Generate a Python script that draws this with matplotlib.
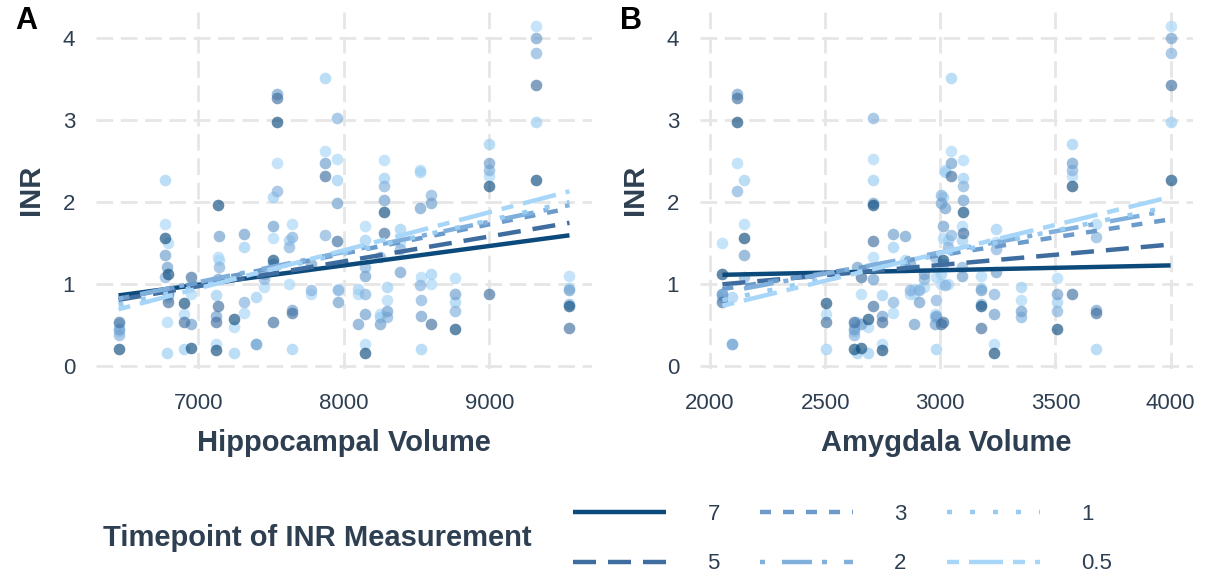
import numpy as np
import matplotlib
matplotlib.use('Agg')
import matplotlib.pyplot as plt
from matplotlib.lines import Line2D

# Data: one row per patient, INR at each timepoint (nan = not measured)
timepoints = ['0.5', '1', '2', '3', '5', '7']
hippocampal = [6450, 6768, 6790, 6782, 6897, 6947, 7136, 7140, 7120, 7241,
               7315, 7395, 7453, 7541, 7510, 7640, 7620, 7773, 7868, 7955,
               7960, 8098, 8143, 8143, 8250, 8273, 8295, 8386, 8523, 8530,
               8602, 8768, 9000, 9321, 9552]
amygdala = [2626, 2148, 2054, 2640, 2505, 2655, 2708, 2848, 2745, 2688,
            2793, 2097, 2930, 2117, 3013, 3674, 3035, 2870, 3046, 2708,
            2909, 2885, 3095, 3235, 2975, 3097, 3351, 3240, 3020, 2980,
            3005, 3507, 3572, 4000, 3177]
nan = np.nan
inr = [
    [0.51, 0.43, 0.38, 0.45, 0.53, 0.21],
    [1.73, 2.27, 1.08, 1.35, nan, 1.56],
    [1.50, 0.84, 0.88, 0.88, 0.78, 1.12],
    [0.54, 0.16, nan, 1.21, nan, nan],
    [0.63, 0.20, nan, nan, 0.54, 0.76],
    [0.88, nan, nan, 0.51, 1.08, 0.22],
    [1.33, nan, nan, 1.06, 0.73, 1.96],
    [1.29, nan, 1.20, 1.58, nan, nan],
    [0.27, 0.86, nan, 0.61, 0.54, 0.19],
    [0.47, 0.16, nan, nan, nan, 0.57],
    [0.65, 1.45, 0.78, 1.61, nan, nan],
    [0.27, 0.84, nan, 0.27, nan, nan],
    [0.96, nan, 1.06, 1.12, nan, nan],
    [2.47, nan, 2.13, 3.32, 3.26, 2.97],
    [1.56, 2.06, 1.24, 1.71, 0.53, 1.29],
    [1.73, 0.20, 1.57, 0.68, 0.65, nan],
    [1.00, 1.53, 1.45, nan, nan, nan],
    [0.87, nan, 0.92, 1.24, nan, nan],
    [2.62, 3.51, 1.59, 2.47, 2.31, nan],
    [2.52, 2.27, 3.02, 1.98, 1.52, nan],
    [0.94, nan, 0.92, 0.78, nan, nan],
    [0.88, 0.94, nan, 0.51, nan, nan],
    [1.70, 1.53, 1.20, 1.09, nan, nan],
    [0.27, nan, 0.88, 0.63, nan, 0.16],
    [0.63, 0.59, 1.33, 0.51, nan, nan],
    [2.51, 2.29, 2.19, 2.02, 1.62, 1.87],
    [0.80, 0.96, 0.59, 0.67, nan, nan],
    [1.51, 1.67, 1.43, 1.14, nan, nan],
    [2.39, 2.36, 0.98, 1.92, nan, nan],
    [1.08, 0.20, 0.80, 0.61, nan, nan],
    [1.00, 1.12, 2.08, 1.98, 0.51, nan],
    [1.07, 0.78, 0.67, 0.87, nan, 0.45],
    [2.31, 2.70, 2.39, 2.47, 0.87, 2.19],
    [4.14, 2.97, 3.82, 4.00, 3.42, 2.27],
    [1.10, 0.95, 0.75, 0.93, 0.46, 0.73],
]

# styles per timepoint
colors = {'7': '#0C4A7B', '5': '#3F6D9F', '3': '#6A9BCB', '2': '#80AFDC',
          '1': '#99CCF2', '0.5': '#A7D6F8'}
px = 0.72  # pixels -> points at 100 dpi
dashes = {'7': None, '5': (23 * px, 12 * px), '3': (11 * px, 12 * px),
          '2': (5 * px, 17 * px, 30 * px, 10 * px), '1': (5 * px, 18 * px),
          '0.5': (12 * px, 10 * px, 34 * px, 10 * px)}
legend_order = ['7', '5', '3', '2', '1', '0.5']

text_col = '#2E3F52'
grid_col = '#E6E6E6'
plt.rcParams['font.family'] = ['Liberation Sans', 'DejaVu Sans']
plt.rcParams['lines.scale_dashes'] = False

inr = np.array(inr)
fig = plt.figure(figsize=(12.06, 5.77), dpi=100)
ax_a = fig.add_axes([96 / 1206, 1 - 369 / 577, 496 / 1206, 359 / 577])
ax_b = fig.add_axes([700 / 1206, 1 - 369 / 577, 493 / 1206, 359 / 577])


def draw_panel(ax, xvals, xlabel, xticks, tag):
    xvals = np.array(xvals, dtype=float)
    # points
    for j, tp in enumerate(timepoints):
        ax.scatter(xvals, inr[:, j], s=70, color=colors[tp], alpha=0.65,
                   linewidths=0, zorder=2)
    # linear fit per timepoint
    for tp in legend_order:
        j = timepoints.index(tp)
        ok = ~np.isnan(inr[:, j])
        slope, icpt = np.polyfit(xvals[ok], inr[ok, j], 1)
        xs = np.array([xvals[ok].min(), xvals[ok].max()])
        ln, = ax.plot(xs, icpt + slope * xs, color=colors[tp], lw=3.2,
                      solid_capstyle='butt', dash_capstyle='butt', zorder=3)
        if dashes[tp] is not None:
            ln.set_dashes(dashes[tp])
    ax.set_xticks(xticks)
    ax.set_yticks([0, 1, 2, 3, 4])
    ax.grid(True, color=grid_col, lw=2, linestyle=(0, (12, 5.5)), zorder=0)
    for s in ax.spines.values():
        s.set_visible(False)
    ax.tick_params(length=0, labelsize=16, labelcolor=text_col)
    ax.tick_params(axis='x', pad=17)
    ax.tick_params(axis='y', pad=15)
    ax.set_xlabel(xlabel, fontsize=21, fontweight='bold', color=text_col,
                  labelpad=11)
    ax.set_ylabel('INR', fontsize=21, fontweight='bold', color=text_col,
                  labelpad=13)
    ax.text(-0.14, 0.97, tag, transform=ax.transAxes, fontsize=22,
            fontweight='bold', color='black', ha='center', va='center')


draw_panel(ax_a, hippocampal, 'Hippocampal Volume', [7000, 8000, 9000], 'A')
draw_panel(ax_b, amygdala, 'Amygdala Volume', [2000, 2500, 3000, 3500, 4000], 'B')

# legend at the bottom
handles = []
for tp in legend_order:
    h = Line2D([], [], color=colors[tp], lw=3.2, solid_capstyle='butt',
               dash_capstyle='butt')
    if dashes[tp] is not None:
        h.set_dashes(dashes[tp])
    handles.append(h)
fig.legend(handles, legend_order, ncol=3, loc='center left',
           bbox_to_anchor=(553 / 1206, 1 - 539 / 577), frameon=False,
           fontsize=16, labelcolor=text_col, handlelength=4.2,
           handletextpad=1.85, columnspacing=1.8, labelspacing=1.3)
fig.text(103 / 1206, 1 - 538 / 577, 'Timepoint of INR Measurement',
         fontsize=21, fontweight='bold', color=text_col, ha='left', va='center')

fig.savefig('out.png', dpi=100)
